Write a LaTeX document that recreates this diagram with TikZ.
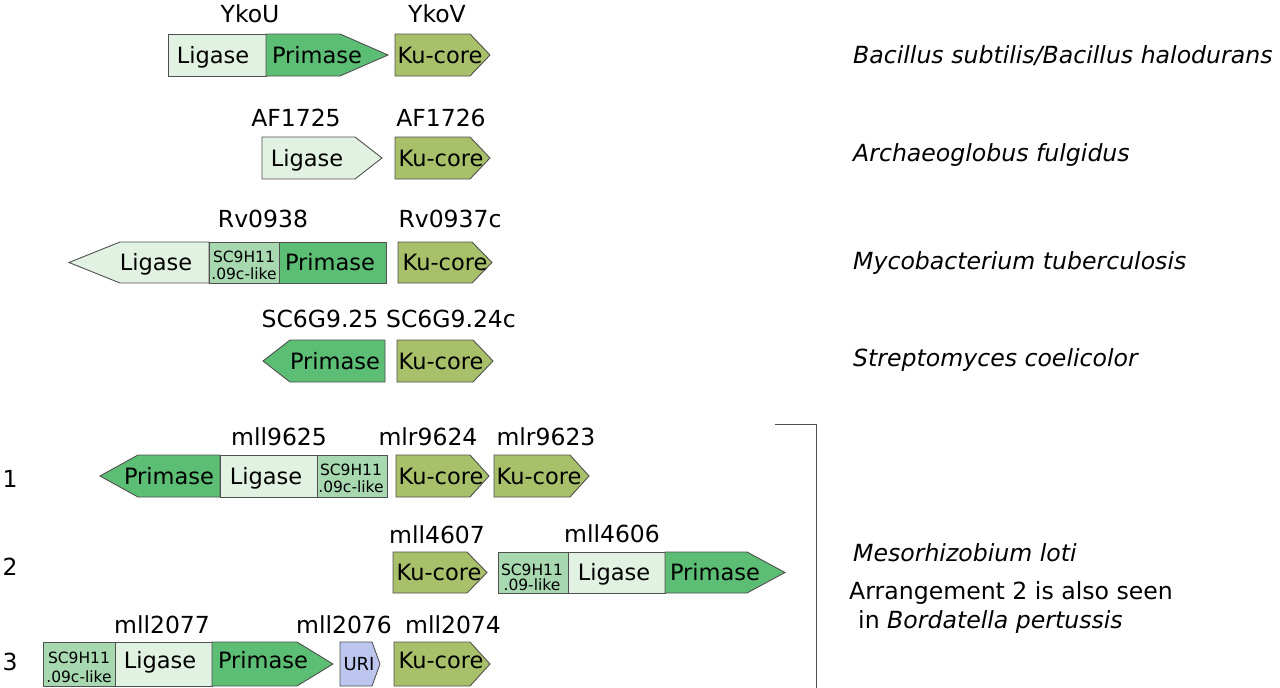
\documentclass[tikz,border=0pt]{standalone}
\usepackage{fontspec}
\setmainfont{DejaVu Sans}
\definecolor{ligc}{HTML}{E2F2E2}
\definecolor{primc}{HTML}{5CBE74}
\definecolor{kuc}{HTML}{A9C06A}
\definecolor{scc}{HTML}{A8D8B0}
\definecolor{uric}{HTML}{BCC6EE}
\definecolor{edgec}{HTML}{505050}
\tikzset{
  seg/.style={draw=edgec, line width=0.9pt, line join=miter},
  gtext/.style={font=\fontsize{22.5}{26}\selectfont, inner sep=0pt, anchor=base},
  glab/.style={font=\fontsize{23.5}{28}\selectfont, inner sep=0pt, anchor=base},
  gsmall/.style={font=\fontsize{15.5}{17}\selectfont, inner sep=0pt, anchor=base},
  gspec/.style={font=\fontsize{23.6}{27}\selectfont, inner sep=0pt, anchor=base west},
}
% rectangle segment: x1 x2 ytop ybot colour
\newcommand\gbox[5]{\filldraw[seg,fill=#5] (#1,#3) rectangle (#2,#4);}
% arrow segment: xbase xshoulder xtip ytop ybot colour
\newcommand\garrow[6]{\filldraw[seg,fill=#6] (#1,#4) -- (#2,#4) -- (#3,{(#4+#5)/2}) -- (#2,#5) -- (#1,#5) -- cycle;}
\begin{document}
\begin{tikzpicture}[x=1pt,y=-1pt]
\useasboundingbox (0,0) rectangle (1280,688);
\fill[white] (0,0) rectangle (1280,688);

% ---------- Row 1 : Bacillus ----------
\gbox{168}{266}{34}{76}{ligc}
\garrow{266}{340}{388}{34}{76}{primc}
\garrow{395}{470}{490}{34}{76}{kuc}
\node[gtext] (r1lig) at (213,63) {Ligase};
\node[gtext] (r1pri) at (317,63) {Primase};
\node[gtext] (r1ku) at (440,63) {Ku-core};
\node[glab] (r1a) at (250,23) {YkoU};
\node[glab] (r1b) at (437,23) {YkoV};
\node[gspec] (s1) at (853,63) {\itshape Bacillus subtilis/Bacillus halodurans};

% ---------- Row 2 : Archaeoglobus ----------
\garrow{262}{355}{382}{137}{179}{ligc}
\garrow{395}{470}{490}{137}{179}{kuc}
\node[gtext] (r2lig) at (307,166) {Ligase};
\node[gtext] (r2ku) at (441,166) {Ku-core};
\node[glab] (r2a) at (296,126) {AF1725};
\node[glab] (r2b) at (441,126) {AF1726};
\node[gspec] (s2) at (853,161) {\itshape Archaeoglobus fulgidus};

% ---------- Row 3 : Mycobacterium ----------
\garrow{209}{120}{69}{242}{283}{ligc}
\gbox{209}{279}{242}{283}{scc}
\gbox{279}{386}{242}{283}{primc}
\garrow{398}{472}{492}{242}{283}{kuc}
\node[gtext] (r3lig) at (156,270) {Ligase};
\node[gsmall] (r3sc1) at (244,262) {SC9H11};
\node[gsmall] (r3sc2) at (244,279) {.09c-like};
\node[gtext] (r3pri) at (330,270) {Primase};
\node[gtext] (r3ku) at (445,270) {Ku-core};
\node[glab] (r3a) at (263,227) {Rv0938};
\node[glab] (r3b) at (450,227) {Rv0937c};
\node[gspec] (s3) at (853,269) {\itshape Mycobacterium tuberculosis};

% ---------- Row 4 : Streptomyces ----------
\garrow{385}{290}{263}{340}{382}{primc}
\garrow{397}{473}{493}{340}{382}{kuc}
\node[gtext] (r4pri) at (335,369) {Primase};
\node[gtext] (r4ku) at (441,369) {Ku-core};
\node[glab] (r4a) at (320,327) {SC6G9.25};
\node[glab] (r4b) at (451,327) {SC6G9.24c};
\node[gspec] (s4) at (853,366) {\itshape Streptomyces coelicolor};

% ---------- Row 5 : M. loti 1 ----------
\garrow{220}{138}{100}{455}{497}{primc}
\gbox{220}{317}{455}{497}{ligc}
\gbox{317}{387}{455}{497}{scc}
\garrow{396}{470}{489}{455}{497}{kuc}
\garrow{494}{570}{589}{455}{497}{kuc}
\node[gtext] (r5pri) at (169,484) {Primase};
\node[gtext] (r5lig) at (266,484) {Ligase};
\node[gsmall] (r5sc1) at (351,475) {SC9H11};
\node[gsmall] (r5sc2) at (351,492) {.09c-like};
\node[gtext] (r5ku1) at (441,484) {Ku-core};
\node[gtext] (r5ku2) at (539,484) {Ku-core};
\node[glab] (r5a) at (279,445) {mll9625};
\node[glab] (r5b) at (428,445) {mlr9624};
\node[glab] (r5c) at (546,445) {mlr9623};
\node[glab] (n1) at (10,487) {1};

% ---------- Row 6 : M. loti 2 ----------
\garrow{393}{467}{487}{552}{593}{kuc}
\gbox{498}{568}{552}{593}{scc}
\gbox{568}{665}{552}{593}{ligc}
\garrow{665}{747}{785}{552}{593}{primc}
\node[gtext] (r6ku) at (439,580) {Ku-core};
\node[gsmall] (r6sc1) at (532,575) {SC9H11};
\node[gsmall] (r6sc2) at (532,590) {.09-like};
\node[gtext] (r6lig) at (614,580) {Ligase};
\node[gtext] (r6pri) at (715,580) {Primase};
\node[glab] (r6a) at (437,543) {mll4607};
\node[glab] (r6b) at (612,542) {mll4606};
\node[glab] (n2) at (10,575) {2};

% ---------- Row 7 : M. loti 3 ----------
\gbox{43}{115}{642}{686}{scc}
\gbox{115}{212}{642}{686}{ligc}
\garrow{212}{297}{333}{642}{686}{primc}
\garrow{340}{372}{380}{642}{686}{uric}
\garrow{394}{470}{490}{642}{686}{kuc}
\node[gsmall] (r7sc1) at (79,663) {SC9H11};
\node[gsmall] (r7sc2) at (79,682) {.09c-like};
\node[gtext] (r7lig) at (160,668) {Ligase};
\node[gtext] (r7pri) at (263,668) {Primase};
\node[gsmall, font=\fontsize{18}{20}\selectfont] (r7uri) at (359,670) {URI};
\node[gtext] (r7ku) at (441,668) {Ku-core};
\node[glab] (r7a) at (162,633) {mll2077};
\node[glab] (r7b) at (344,633) {mll2076};
\node[glab] (r7c) at (453,633) {mll2074};
\node[glab] (n3) at (10,670) {3};

% ---------- bracket and M. loti text ----------
\coordinate (bA) at (775,424);
\coordinate (bB) at (816,424);
\coordinate (bC) at (816,688);
\draw[draw=edgec, line width=1pt] (bA) -- (bB) -- (bC);
\node[gspec] (s5) at (853,561) {\itshape Mesorhizobium loti};
\node[gspec] (s6) at (849,599) {Arrangement 2 is also seen};
\node[gspec] (s7) at (858,628) {in \itshape Bordatella pertussis};
\end{tikzpicture}
\end{document}
